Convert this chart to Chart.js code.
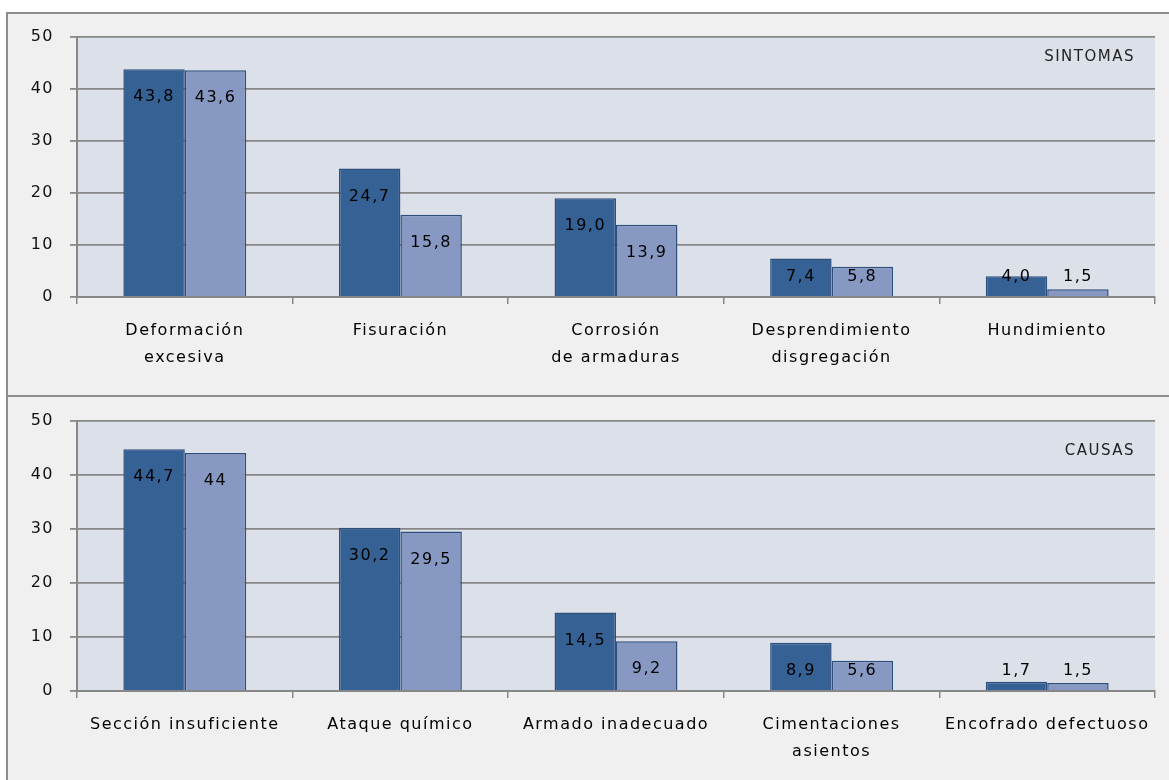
<!DOCTYPE html>
<html>
<head>
<meta charset="utf-8">
<script src="https://cdn.jsdelivr.net/npm/chart.js@4"></script>
<style>
  html, body { margin: 0; padding: 0; background: #fff; overflow: hidden; }
  body { width: 1169px; height: 780px; position: relative; font-family: "DejaVu Sans", sans-serif; }
  #page { position: absolute; left: 0; top: 0; width: 1169px; height: 780px; overflow: hidden; }
  .frame { position: absolute; left: 6px; width: 1300px; background: #f0f0f0; border-left: 2px solid #8c8c8c; border-top: 2px solid #8c8c8c; box-sizing: border-box; }
  #frameTop { top: 12px; height: 385px; }
  #frameBottom { top: 395px; height: 400px; }
  canvas { position: absolute; left: 0; }
  #wrapTop { position: absolute; left: 0; top: 0; width: 1169px; height: 395px; }
  #wrapBottom { position: absolute; left: 0; top: 395px; width: 1169px; height: 385px; }
</style>
</head>
<body>
<div id="page">
<div class="frame" id="frameTop"></div>
<div class="frame" id="frameBottom"></div>
<div id="wrapTop"><canvas id="sintomas"></canvas></div>
<div id="wrapBottom"><canvas id="causas"></canvas></div>
</div>
<script>
// SINTOMAS
const sintomasLabels = [['Deformación', 'excesiva'], 'Fisuración', ['Corrosión', 'de armaduras'], ['Desprendimiento', 'disgregación'], 'Hundimiento'];
const sintomasA = [43.8, 24.7, 19.0, 7.4, 4.0];
const sintomasB = [43.6, 15.8, 13.9, 5.8, 1.5];
const sintomasTextA = ['43,8', '24,7', '19,0', '7,4', '4,0'];
const sintomasTextB = ['43,6', '15,8', '13,9', '5,8', '1,5'];

// CAUSAS
const causasLabels = ['Sección insuficiente', 'Ataque químico', 'Armado inadecuado', ['Cimentaciones', 'asientos'], 'Encofrado defectuoso'];
const causasA = [44.7, 30.2, 14.5, 8.9, 1.7];
const causasB = [44, 29.5, 9.2, 5.6, 1.5];
const causasTextA = ['44,7', '30,2', '14,5', '8,9', '1,7'];
const causasTextB = ['44', '29,5', '9,2', '5,6', '1,5'];

const yTicks = [0, 10, 20, 30, 40, 50];

const DARK = '#366194';
const LIGHT = '#8799c3';
const EDGE = '#2c4f7e';
const GRID = '#878787';
const FONT = '"DejaVu Sans", sans-serif';

// canvas letter spacing to mimic the wide rendering of the original
const spacing = {
  id: 'spacing',
  beforeLayout(chart) { chart.ctx.letterSpacing = '1.5px'; },
  beforeDraw(chart) { chart.ctx.letterSpacing = '1.5px'; }
};

const plotBg = {
  id: 'plotBg',
  beforeDraw(chart) {
    const { ctx, chartArea: a } = chart;
    ctx.save();
    ctx.fillStyle = '#dce0e8';
    ctx.fillRect(a.left, a.top, a.right - a.left, a.bottom - a.top);
    ctx.restore();
  }
};

const valueLabels = {
  id: 'valueLabels',
  afterDatasetsDraw(chart, args, opts) {
    const { ctx } = chart;
    const base = chart.scales.y.getPixelForValue(0);
    ctx.save();
    ctx.letterSpacing = '1.5px';
    ctx.font = '16px ' + FONT;
    ctx.fillStyle = '#000';
    ctx.textAlign = 'center';
    ctx.textBaseline = 'middle';
    chart.data.datasets.forEach((ds, i) => {
      chart.getDatasetMeta(i).data.forEach((bar, j) => {
        const y = Math.min(bar.y + 28, base - 20);
        ctx.fillText(ds.texts[j], bar.x, y);
      });
    });
    // corner title
    ctx.font = '15px ' + FONT;
    ctx.fillStyle = '#222';
    ctx.textAlign = 'right';
    ctx.fillText(opts.title, chart.chartArea.right - 20, chart.chartArea.top + opts.titleOffset);
    ctx.restore();
  }
};

function makeChart(id, labels, a, b, ta, tb, title, padTop, xHeight, titleOffset) {
  return new Chart(document.getElementById(id), {
    type: 'bar',
    data: {
      labels: labels,
      datasets: [
        { data: a, texts: ta, backgroundColor: DARK, borderColor: EDGE, borderWidth: 1.5 },
        { data: b, texts: tb, backgroundColor: LIGHT, borderColor: EDGE, borderWidth: 1.5 }
      ]
    },
    options: {
      responsive: true,
      maintainAspectRatio: false,
      animation: false,
      layout: { padding: { top: padTop, right: 14, left: 0, bottom: 0 } },
      categoryPercentage: 0.57,
      barPercentage: 1.0,
      plugins: {
        legend: { display: false },
        tooltip: { enabled: false },
        valueLabels: { title: title, titleOffset: titleOffset }
      },
      scales: {
        x: {
          grid: { display: true, drawOnChartArea: false, drawTicks: true, tickLength: 7, color: GRID, lineWidth: 1.5 },
          border: { display: true, color: GRID, width: 2 },
          ticks: { color: '#000', font: { family: FONT, size: 16, lineHeight: 1.65 }, padding: 14, maxRotation: 0, autoSkip: false },
          afterFit(scale) { scale.height = xHeight; }
        },
        y: {
          min: 0,
          max: 50,
          afterBuildTicks(scale) { scale.ticks = yTicks.map(v => ({ value: v })); },
          grid: { color: GRID, lineWidth: 1.8, tickLength: 7 },
          border: { display: true, color: GRID, width: 2 },
          ticks: { color: '#111', font: { family: FONT, size: 16 }, padding: 16 },
          afterFit(scale) { scale.width = 77; }
        }
      }
    },
    plugins: [spacing, plotBg, valueLabels]
  });
}

makeChart('sintomas', sintomasLabels, sintomasA, sintomasB, sintomasTextA, sintomasTextB, 'SINTOMAS', 37, 98, 20);
makeChart('causas', causasLabels, causasA, causasB, causasTextA, causasTextB, 'CAUSAS', 25, 89, 31);
</script>
</body>
</html>
